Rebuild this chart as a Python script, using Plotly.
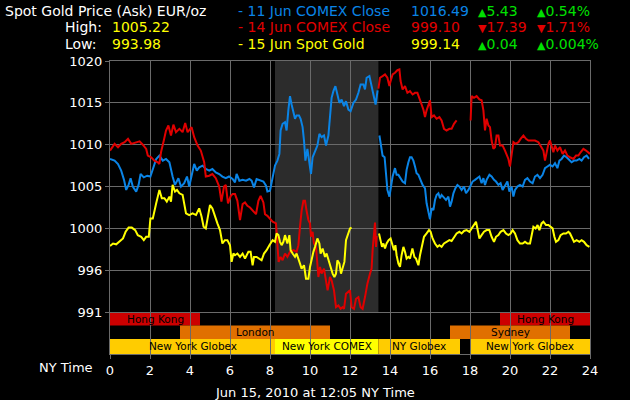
import plotly.graph_objects as go

# ==========================
# DATA
# ==========================

# 11 Jun COMEX close line (blue), NY time in hours, EUR/oz. None = gap
jun11_hours = [0.0, 0.23, 0.4, 0.56, 0.7, 0.81, 0.93, 1.03, 1.14, 1.31, 1.43, 1.53, 1.69, 1.86,
               2.02, 2.14, 2.31, 2.47, 2.64, 2.8, 2.97, 3.13, 3.25, 3.42, 3.55, 3.71, 3.85, 3.96,
               4.08, 4.21, 4.34, 4.46, 4.63, 4.79, 4.96, 5.12, 5.29, 5.46, 5.62, 5.79, 5.95, 6.13,
               6.25, 6.33, 6.47, 6.63, 6.8, 6.97, 7.08, 7.2, 7.33, 7.5, 7.67, 7.8, 7.87, 8.0,
               8.13, 8.25, 8.37, 8.47, 8.53, 8.63, 8.75, 8.83, 8.92, 9.0, 9.08, 9.17, 9.25, 9.33,
               9.45, 9.53, 9.63, 9.7, 9.77, 9.87, 9.97, 10.05, 10.13, 10.25, 10.37, 10.47, 10.58,
               10.7, 10.8, 10.92, 11.0, 11.08, 11.17, 11.27, 11.37, 11.47, 11.58, 11.7, 11.8,
               11.92, 12.03, 12.17, 12.3, 12.42, 12.53, 12.67, 12.75, 12.83, 12.97, 13.08, 13.2,
               13.28, 13.38, 13.42,
               13.47, 13.55, 13.63, 13.73, 13.8, 13.87, 13.97, 14.03, 14.13, 14.25, 14.33, 14.42,
               14.53, 14.63, 14.75, 14.83, 14.92, 15.0, 15.08, 15.17, 15.25, 15.33, 15.42, 15.53,
               15.63, 15.75, 15.83, 15.92, 16.0, 16.08, 16.17, 16.25, 16.33, 16.42, 16.5, 16.58,
               16.7, 16.8, 16.92, 17.0, 17.08, 17.17, 17.27, 17.37, 17.47, 17.58, 17.7, 17.8,
               17.92, 18.03, 18.13, 18.25, 18.37, 18.47, 18.58, 18.67, 18.75, 18.83, 18.97, 19.08,
               19.2, 19.3, 19.42, 19.53, 19.63, 19.75, 19.87, 19.97, 20.08, 20.17, 20.25, 20.37,
               20.5, 20.63, 20.75, 20.87, 21.0, 21.13, 21.25, 21.37, 21.5, 21.63, 21.75, 21.87,
               22.0, 22.13, 22.25, 22.37, 22.47, 22.58, 22.7, 22.83, 22.97, 23.08, 23.2, 23.33,
               23.47, 23.58, 23.7, 23.83, 23.95]
jun11_price = [1008.3, 1008.1, 1007.7, 1006.9, 1005.8, 1004.6, 1005.2, 1006.0, 1005.0, 1004.4,
               1005.2, 1006.5, 1006.1, 1006.3, 1006.2, 1007.1, 1008.3, 1008.7, 1008.1, 1008.3,
               1007.9, 1006.2, 1005.2, 1006.0, 1005.0, 1005.4, 1006.2, 1005.0, 1006.5, 1007.7,
               1006.9, 1007.3, 1007.5, 1007.1, 1006.9, 1007.1, 1006.7, 1006.5, 1006.2, 1006.0,
               1006.2, 1005.9, 1005.5, 1006.5, 1005.7, 1005.8, 1005.7, 1005.9, 1005.7, 1004.9,
               1005.9, 1005.7, 1005.6, 1005.1, 1004.4, 1004.5, 1006.1, 1007.5, 1008.1, 1008.9,
               1011.7, 1012.5, 1012.7, 1011.7, 1014.2, 1015.8, 1014.8, 1014.0, 1013.1, 1013.5,
               1013.5, 1013.1, 1012.1, 1010.5, 1008.1, 1009.5, 1008.1, 1006.5, 1008.5, 1009.3,
               1009.9, 1011.3, 1010.9, 1011.1, 1009.9, 1011.1, 1013.1, 1015.6, 1016.4, 1017.0,
               1016.0, 1015.0, 1015.4, 1014.6, 1015.2, 1014.2, 1014.0, 1015.0, 1015.4, 1016.2,
               1017.2, 1017.2, 1016.6, 1018.0, 1018.2, 1017.0, 1015.6, 1014.8, 1016.5, None,
               1011.1, 1010.1, 1008.7, 1008.5, 1006.0, 1004.6, 1003.8, 1004.6, 1006.2, 1007.2,
               1006.4, 1006.4, 1006.0, 1005.6, 1005.4, 1007.0, 1007.9, 1008.5, 1008.5, 1008.1,
               1007.4, 1006.6, 1006.4, 1005.8, 1005.2, 1004.8, 1003.0, 1002.0, 1001.1, 1002.4,
               1002.2, 1003.4, 1004.0, 1004.2, 1003.6, 1004.0, 1003.6, 1003.4, 1003.8, 1002.6,
               1003.2, 1004.2, 1004.8, 1005.2, 1005.0, 1004.6, 1005.0, 1004.2, 1004.6, 1005.2,
               1005.6, 1005.8, 1006.0, 1006.2, 1005.4, 1006.0, 1005.2, 1005.8, 1006.4, 1006.2,
               1005.8, 1005.6, 1005.2, 1005.4, 1004.6, 1005.2, 1005.6, 1004.4, 1005.0, 1003.8,
               1004.6, 1005.0, 1005.2, 1005.0, 1005.8, 1006.0, 1005.6, 1005.4, 1006.2, 1006.4,
               1006.0, 1006.4, 1007.2, 1007.4, 1007.6, 1007.4, 1007.8, 1007.2, 1008.1, 1008.3,
               1008.7, 1008.5, 1008.1, 1007.9, 1008.1, 1008.1, 1008.3, 1008.1, 1008.5, 1008.7,
               1008.3]

# 14 Jun COMEX close line (red)
jun14_hours = [0.0, 0.23, 0.4, 0.56, 0.73, 0.9, 1.06, 1.31, 1.48, 1.64, 1.81, 1.89, 2.06, 2.22,
               2.39, 2.47, 2.55, 2.69, 2.8, 2.92, 3.05, 3.17, 3.3, 3.47, 3.63, 3.76, 3.88, 4.08,
               4.21, 4.38, 4.54, 4.71, 4.79, 4.96, 5.12, 5.29, 5.46, 5.57, 5.7, 5.79, 5.9, 6.04,
               6.13, 6.25, 6.37, 6.5, 6.63, 6.75, 6.87, 7.0, 7.17, 7.3, 7.42, 7.53, 7.67, 7.75,
               7.87, 8.0, 8.13, 8.3, 8.37, 8.43, 8.53, 8.63, 8.75, 8.87, 9.0, 9.17, 9.33, 9.42,
               9.5, 9.58, 9.67, 9.75, 9.83, 9.92, 10.0, 10.05, 10.13, 10.2, 10.3, 10.42, 10.5,
               10.58, 10.7, 10.8, 10.88, 11.0, 11.08, 11.2, 11.3, 11.42, 11.53, 11.63, 11.7, 11.8,
               11.92, 12.0, 12.08, 12.2, 12.3, 12.42, 12.53, 12.63, 12.75, 12.87, 13.0, 13.08,
               13.13, 13.2, 13.25, 13.3, 13.33, 13.37,
               13.42, 13.5, 13.63, 13.75, 13.87, 13.97, 14.03, 14.13, 14.25, 14.37, 14.47, 14.53,
               14.63, 14.75, 14.87, 15.0, 15.13, 15.25, 15.37, 15.47, 15.58, 15.67, 15.75, 15.83,
               15.92, 16.0, 16.08, 16.2, 16.33, 16.47, 16.58, 16.7, 16.83, 16.97, 17.08, 17.2,
               17.33, 17.6,
               18.03, 18.08, 18.2, 18.33, 18.47, 18.58, 18.67, 18.75, 18.83, 18.92, 19.0, 19.08,
               19.17, 19.25, 19.33, 19.42, 19.5, 19.63, 19.75, 19.83, 19.92, 20.0, 20.08, 20.17,
               20.28, 20.42, 20.53, 20.67, 20.8, 20.92, 21.08, 21.25, 21.42, 21.53, 21.67, 21.75,
               21.83, 21.92, 22.0, 22.08, 22.17, 22.25, 22.37, 22.5, 22.63, 22.75, 22.87, 23.0,
               23.17, 23.3, 23.42, 23.53, 23.67, 23.8, 23.92, 24.0]
jun14_price = [1009.3, 1010.1, 1009.7, 1010.1, 1010.3, 1010.7, 1010.1, 1010.3, 1010.4, 1010.0,
               1009.5, 1008.7, 1008.5, 1008.1, 1007.9, 1007.7, 1009.1, 1010.5, 1011.7, 1012.3,
               1011.1, 1012.4, 1011.5, 1011.9, 1011.5, 1012.6, 1011.5, 1012.1, 1010.9, 1009.9,
               1009.3, 1007.9, 1006.2, 1006.3, 1006.5, 1006.0, 1005.0, 1003.2, 1005.0, 1005.2,
               1003.0, 1003.9, 1004.1, 1004.1, 1003.3, 1001.0, 1002.9, 1003.1, 1002.7, 1002.5,
               1002.1, 1001.7, 1003.3, 1003.9, 1003.1, 1001.7, 1001.5, 1001.2, 1000.8, 1000.6,
               998.6, 996.0, 996.6, 996.2, 997.0, 996.6, 997.2, 997.4, 997.2, 998.0,
               1000.2, 1002.1, 1003.3, 1003.3, 1002.1, 1001.0, 1000.6, 999.0, 999.6, 998.2,
               997.8, 994.2, 995.4, 994.6, 995.2, 993.8, 992.6, 994.2, 993.8, 992.6,
               990.6, 990.8, 990.4, 990.6, 990.4, 992.2, 992.4, 992.6, 990.6, 990.4,
               991.6, 991.8, 990.6, 990.4, 991.8, 993.4, 994.6, 995.2, 997.4, 1000.2,
               1000.7, 997.8, 999.1, None,
               1016.7, 1018.0, 1018.2, 1018.4, 1018.0, 1017.0, 1017.6, 1018.4, 1018.6, 1018.9,
               1019.0, 1017.6, 1016.6, 1017.0, 1016.2, 1016.4, 1016.0, 1016.2, 1016.2, 1015.4,
               1014.8, 1014.2, 1013.3, 1014.1, 1014.7, 1015.3, 1013.3, 1013.5, 1013.1, 1013.3,
               1012.9, 1011.9, 1011.7, 1011.9, 1011.9, 1012.5, 1012.9, None,
               1012.9, 1015.8, 1015.6, 1015.8, 1015.4, 1015.3, 1014.1, 1011.7, 1013.1, 1012.3,
               1012.1, 1010.5, 1009.5, 1009.7, 1011.1, 1011.1, 1009.9, 1009.9, 1009.3, 1008.9,
               1008.3, 1007.4, 1008.9, 1010.3, 1010.1, 1010.3, 1010.7, 1011.1, 1010.7, 1010.5,
               1010.5, 1010.5, 1010.3, 1009.9, 1009.3, 1008.1, 1009.3, 1010.1, 1010.5, 1009.9,
               1009.1, 1009.9, 1009.3, 1009.7, 1008.9, 1009.3, 1008.7, 1008.5, 1008.3, 1008.7,
               1008.7, 1009.1, 1009.5, 1009.3, 1009.1, 1008.9]

# 15 Jun spot gold line (yellow)
jun15_hours = [0.0, 0.15, 0.31, 0.48, 0.65, 0.78, 0.93, 1.09, 1.26, 1.39, 1.56, 1.69, 1.81, 1.94,
               2.02, 2.14, 2.22, 2.31, 2.39, 2.47, 2.59, 2.72, 2.84, 2.97, 3.05, 3.13, 3.25, 3.35,
               3.47, 3.63, 3.8, 3.96, 4.13, 4.3, 4.46, 4.58, 4.68, 4.79, 4.88, 5.0, 5.12, 5.24,
               5.37, 5.5, 5.62, 5.74, 5.87, 6.0, 6.08, 6.17, 6.25, 6.37, 6.5, 6.63, 6.75, 6.92,
               7.03, 7.13, 7.2, 7.33, 7.47, 7.58, 7.7, 7.83, 7.97, 8.13, 8.25, 8.33, 8.42, 8.5,
               8.58, 8.67, 8.75, 8.87, 8.97, 9.03, 9.13, 9.25, 9.33, 9.42, 9.5, 9.58, 9.7, 9.8,
               9.92, 10.0, 10.08, 10.17, 10.25, 10.37, 10.47, 10.53, 10.63, 10.75, 10.83, 10.93,
               11.03, 11.13, 11.22, 11.3, 11.37, 11.47, 11.55, 11.63, 11.72, 11.8, 11.92, 12.0,
               12.08, 12.5,
               13.45, 13.53, 13.6, 13.67, 13.75, 13.83, 13.93, 14.03, 14.12, 14.2, 14.27, 14.33,
               14.42, 14.5, 14.58, 14.67, 14.75, 14.83, 14.92, 15.0, 15.12, 15.22, 15.3, 15.42,
               15.5, 15.6, 15.7, 15.83, 15.95, 16.03, 16.13, 16.25, 16.37, 16.47, 16.58, 16.7,
               16.83, 16.97, 17.08, 17.2, 17.33, 17.47, 17.58, 17.7, 17.83, 17.97, 18.08, 18.2,
               18.3, 18.37, 18.47, 18.58, 18.7, 18.83, 18.97, 19.08, 19.2, 19.3, 19.42, 19.53,
               19.67, 19.8, 19.92, 20.03, 20.13, 20.25, 20.37, 20.5, 20.63, 20.75, 20.87, 21.0,
               21.08, 21.17, 21.28, 21.38, 21.47, 21.58, 21.67, 21.8, 21.92, 22.03, 22.13, 22.22,
               22.3, 22.42, 22.53, 22.67, 22.8, 22.92, 23.0, 23.08, 23.2, 23.33, 23.47, 23.58,
               23.7, 23.83, 23.97]
jun15_price = [997.9, 998.2, 998.1, 998.4, 998.8, 999.6, 1000.1, 1000.1, 999.8, 999.2,
               999.0, 998.6, 999.0, 999.0, 1001.2, 1001.2, 1002.2, 1003.0, 1003.8, 1004.6,
               1003.6, 1003.6, 1003.2, 1003.8, 1003.2, 1005.2, 1004.4, 1004.6, 1004.2, 1004.0,
               1001.8, 1001.6, 1001.8, 1001.6, 1002.4, 1001.4, 1000.2, 1000.0, 1001.2, 1002.8,
               1002.4, 1001.4, 1000.6, 999.8, 998.2, 998.6, 998.6, 998.0, 996.0, 997.0,
               996.8, 997.0, 996.6, 997.0, 996.4, 997.2, 997.2, 995.6, 996.6, 996.6,
               996.4, 996.2, 997.0, 997.4, 998.0, 998.6, 998.4, 999.4, 999.2, 998.4,
               998.0, 998.4, 999.2, 998.2, 999.2, 997.4, 997.0, 996.6, 997.0, 996.2,
               995.8, 995.2, 995.6, 994.0, 994.0, 995.4, 996.4, 997.2, 997.8, 998.8,
               998.2, 997.0, 997.6, 996.6, 997.0, 996.2, 995.6, 994.6, 994.2, 994.6,
               996.2, 995.8, 994.6, 995.4, 996.0, 998.6, 999.4, 1000.0, 1000.1, None,
               999.4, 998.6, 997.8, 998.2, 997.6, 998.2, 998.6, 998.8, 998.2, 997.4,
               998.0, 996.8, 995.8, 995.4, 996.8, 997.8, 997.2, 996.4, 996.6, 996.4,
               997.6, 996.6, 996.4, 995.6, 996.8, 998.0, 999.0, 999.4, 999.8, 999.6,
               998.8, 998.2, 997.8, 998.0, 997.8, 998.2, 998.4, 998.6, 998.5, 999.0,
               999.4, 999.6, 999.4, 999.7, 999.8, 999.6, 1000.0, 1000.6, 1000.8, 1000.0,
               998.8, 999.2, 999.6, 999.8, 999.8, 999.0, 998.4, 999.0, 999.2, 999.6,
               999.8, 999.4, 999.2, 999.4, 999.8, 999.4, 998.6, 998.2, 998.2, 998.4,
               998.2, 998.2, 999.4, 1000.2, 1000.0, 1000.4, 999.8, 1000.6, 1000.8, 1000.4,
               1000.4, 1000.2, 1000.0, 999.0, 998.4, 998.6, 999.2, 999.4, 999.4, 999.6,
               999.4, 999.0, 998.4, 998.6, 998.4, 998.6, 998.4, 998.0, 997.8]

# trading sessions (row, label, start hour, end hour)
session_rows = [0, 0, 1, 1, 2, 2, 2, 2]
session_names = ["Hong Kong", "Hong Kong", "London", "Sydney",
                 "New York Globex", "New York COMEX", "NY Globex", "New York Globex"]
session_start = [0, 19.5, 3.5, 17.0, 0, 8.25, 13.42, 18.0]
session_end = [4.5, 24, 11.0, 23.0, 8.25, 13.42, 17.5, 24]
session_colors = ["#CC0000", "#CC0000", "#E07000", "#E07000",
                  "#FFCC00", "#FFFF00", "#FFCC00", "#FFCC00"]

comex_open, comex_close = 8.25, 13.42

x_ticks = list(range(0, 25, 2))
y_ticks = [1020, 1015, 1010, 1005, 1000, 995, 990]
y_tick_text = ["1020", "1015", "1010", "1005", "1000", "996", "991"]

# header: label, value, change, pct, up?
legend_labels = ["- 11 Jun COMEX Close", "- 14 Jun COMEX Close", "- 15 Jun Spot Gold"]
legend_values = ["1016.49", "999.10", "999.14"]
legend_change = ["5.43", "17.39", "0.04"]
legend_pct = ["0.54%", "1.71%", "0.004%"]
legend_up = [True, False, True]
high_value = "1005.22"
low_value = "993.98"

# ==========================
# FIGURE
# ==========================

W, H = 630, 400
ML, MR, MT, MB = 110, 40, 61, 46
FONT = "DejaVu Sans"
BLUE, RED, YELLOW, GREEN = "#0A84E6", "#E00000", "#FFFF00", "#00E000"
GRID = "#6A6A6A"


def px(x):
    # window pixel -> paper x
    return (x - ML) / (W - ML - MR)


def py(y):
    # window pixel -> paper y
    return (H - MB - y) / (H - MT - MB)


fig = go.Figure()

for hrs, vals, color in [(jun11_hours, jun11_price, BLUE),
                         (jun14_hours, jun14_price, RED),
                         (jun15_hours, jun15_price, YELLOW)]:
    fig.add_trace(go.Scatter(x=hrs, y=vals, mode="lines", connectgaps=False,
                             line=dict(color=color, width=2), hoverinfo="skip"))

shapes = [dict(type="rect", xref="x", yref="y", x0=comex_open, x1=comex_close,
               y0=990, y1=1020, fillcolor="#2C2C2C", line=dict(width=0), layer="below")]

row_top = [990, 988.4, 986.8]
row_bot = [988.4, 986.8, 985]
annotations = []
for r, name, s, e, c in zip(session_rows, session_names, session_start,
                            session_end, session_colors):
    shapes.append(dict(type="rect", xref="x", yref="y", x0=s, x1=e,
                       y0=row_bot[r], y1=row_top[r], fillcolor=c,
                       line=dict(width=0), layer="below"))
    annotations.append(dict(x=(s + e) / 2, y=(row_top[r] + row_bot[r]) / 2,
                            xref="x", yref="y", text=name, showarrow=False,
                            font=dict(family=FONT, size=10.5, color="black")))

# header
hdr = []
hdr_y = [10.5, 27, 44]
hdr.append(dict(x=px(4), y=py(hdr_y[0]), text="Spot Gold Price (Ask) EUR/oz"))
hdr.append(dict(x=px(64), y=py(hdr_y[1]), text="High:"))
hdr.append(dict(x=px(111), y=py(hdr_y[1]), text=high_value, font_color=YELLOW))
hdr.append(dict(x=px(64), y=py(hdr_y[2]), text="Low:"))
hdr.append(dict(x=px(111), y=py(hdr_y[2]), text=low_value, font_color=YELLOW))

for i, c in enumerate([BLUE, RED, YELLOW]):
    arrow_col = GREEN if legend_up[i] else RED
    arrow = "▲" if legend_up[i] else "▼"
    tri = '<span style="font-size:11px">%s</span>' % arrow
    hdr.append(dict(x=px(237), y=py(hdr_y[i]), text=legend_labels[i], font_color=c))
    hdr.append(dict(x=px(410), y=py(hdr_y[i]), text=legend_values[i], font_color=c))
    hdr.append(dict(x=px(477), y=py(hdr_y[i]), text=tri + legend_change[i],
                    font_color=arrow_col))
    hdr.append(dict(x=px(536), y=py(hdr_y[i]), text=tri + legend_pct[i],
                    font_color=arrow_col))

for a in hdr:
    col = a.pop("font_color", "white")
    a.update(xref="paper", yref="paper", xanchor="left", yanchor="middle",
             showarrow=False, borderpad=0, font=dict(family=FONT, size=14, color=col))
annotations += hdr

annotations.append(dict(x=px(95), y=py(367.5), xref="paper", yref="paper", text="NY Time",
                        xanchor="right", yanchor="middle", showarrow=False,
                        font=dict(family=FONT, size=13, color="white")))
annotations.append(dict(x=px(315), y=py(392), xref="paper", yref="paper",
                        text="Jun 15, 2010 at 12:05 NY Time",
                        xanchor="center", yanchor="middle", showarrow=False,
                        font=dict(family=FONT, size=13, color="white")))

fig.update_layout(
    width=W, height=H,
    margin=dict(l=ML, r=MR, t=MT, b=MB),
    paper_bgcolor="black", plot_bgcolor="black",
    showlegend=False,
    font=dict(family=FONT, size=13, color="white"),
    shapes=shapes,
    annotations=annotations,
    xaxis=dict(range=[0, 24], tickvals=x_ticks, showgrid=True, gridcolor=GRID,
               gridwidth=1, zeroline=False, showline=True, linecolor=GRID, mirror=True,
               ticks="outside", ticklen=4, tickcolor=GRID,
               tickfont=dict(family=FONT, size=13, color="white")),
    yaxis=dict(range=[985, 1020], tickvals=y_ticks, ticktext=y_tick_text, showgrid=True,
               gridcolor=GRID, gridwidth=1, zeroline=False, showline=True, linecolor=GRID,
               mirror=True, ticks="outside", ticklen=4, tickcolor=GRID,
               tickfont=dict(family=FONT, size=13, color="white")),
)

# drop the page's default body margin so the figure sits in the window corner
fig.write_html("out.html", config={"displayModeBar": False},
               post_script="document.body.style.margin='0px';")
